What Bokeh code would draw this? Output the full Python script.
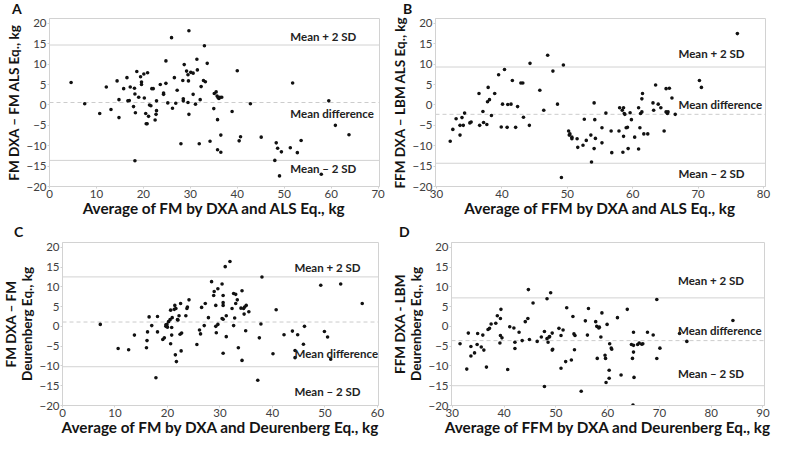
from bokeh.plotting import figure
from bokeh.layouts import column, row
from bokeh.models import Range1d, Span, FixedTicker, Div
from bokeh.embed import file_html
from bokeh.resources import INLINE
from bokeh.core.properties import value

# ---------------- data ----------------
A_x = [4.6, 7.5, 10.7, 12.1, 13.1, 14.4, 14.8, 14.8, 15.8, 16.5, 16.7, 17.0, 17.2, 17.9, 18.1, 18.2, 18.3, 18.2,
       18.6, 19.0, 19.4, 19.6, 19.6, 20.1, 20.2, 20.5, 20.6, 20.8, 20.9, 21.1, 21.3, 21.6, 21.8, 22.1, 22.5, 22.7,
       22.8, 22.8, 23.6, 24.3, 24.3, 24.8, 24.8, 25.2, 26.0, 26.2, 26.6, 26.9, 27.2, 28.0, 28.4, 28.5, 28.5, 28.7,
       29.2, 29.5, 29.5, 29.6, 29.7, 29.7, 30.1, 30.6, 30.6, 31.1, 31.4, 31.5, 31.9, 32.1, 32.3, 32.8, 33.0, 33.2,
       33.6, 34.2, 35.0, 35.1, 35.5, 35.7, 35.8, 35.8, 35.9, 36.1, 36.3, 36.5, 36.5, 36.7, 38.9, 40.0, 40.4, 40.7,
       42.8, 45.1, 48.0, 48.3, 48.6, 49.0, 49.4, 51.3, 51.8, 52.8, 53.6, 57.9, 59.5, 60.9, 63.8]
A_y = [5.5, 0.3, -2.1, 4.4, -1.1, 5.9, 1.3, -3.1, 4.0, 6.7, 1.0, 1.1, 4.4, -0.4, 4.1, 2.7, -1.9, -13.7,
       8.2, 1.9, 6.9, 5.6, 5.0, 7.6, 1.7, -2.1, -4.6, -4.6, 7.9, -2.8, 0.0, -0.2, 4.0, 4.0, -3.7, -2.3,
       -1.4, 1.0, 5.0, 2.6, 2.9, 5.3, 10.8, 0.5, 16.5, -0.8, 6.7, 0.4, 3.6, -9.5, 6.0, 1.5, 1.0, 9.9,
       8.3, 7.4, 0.6, 5.9, -2.3, 18.2, 8.0, 7.8, 2.6, 0.2, 11.2, 8.6, -9.5, 1.3, 4.5, 6.0, 14.5, 5.7,
       10.2, -8.9, -0.9, 2.8, 3.2, 2.2, -11.0, -3.6, 1.8, 1.6, 1.9, -7.4, -11.6, 1.9, -1.6, 8.4, -8.8, -7.8,
       0.3, -7.9, -13.6, -9.3, -10.6, -17.4, -11.5, -10.5, 5.4, -11.7, -8.7, -17.0, 1.0, -5.0, -7.3]

B_x = [32.1, 32.5, 33.0, 33.6, 33.6, 33.9, 34.1, 34.3, 35.1, 35.3, 36.5, 36.6, 37.1, 37.2, 37.7, 37.8, 37.9, 38.1,
       38.4, 38.9, 39.5, 39.9, 40.1, 40.4, 40.8, 40.9, 41.4, 41.6, 42.1, 42.4, 42.9, 43.2, 43.3, 44.2, 44.3, 45.8,
       46.4, 47.0, 47.8, 48.5, 49.1, 49.4, 50.2, 50.3, 50.4, 50.7, 50.7, 51.5, 51.6, 52.4, 52.6, 52.9, 53.6, 53.7,
       54.1, 54.2, 54.1, 54.3, 55.3, 55.3, 55.9, 56.7, 56.8, 57.9, 58.0, 58.4, 58.5, 58.6, 58.6, 58.7, 58.8, 59.0,
       59.2, 59.3, 59.6, 59.8, 60.3, 60.9, 60.9, 61.1, 61.2, 61.4, 61.4, 61.5, 61.7, 62.3, 63.1, 63.2, 63.5, 63.9,
       64.3, 64.8, 65.1, 65.1, 65.3, 65.4, 65.6, 66.0, 66.5, 70.2, 70.5, 76.0]
B_y = [-8.9, -6.0, -3.4, -5.0, -7.4, -3.1, -5.0, -2.0, -4.4, -4.2, 2.8, -5.0, -1.6, -4.3, -4.8, 0.8, 4.3, 1.3,
       -2.6, 2.8, 7.4, -5.4, 0.2, 8.7, -5.5, 0.1, 0.2, 6.0, -5.5, -0.4, 5.4, 5.4, -3.0, -5.0, 10.2, 3.6,
       -1.3, 12.2, 8.3, 0.2, -17.8, 9.8, -6.4, -7.4, -7.1, -7.9, -8.3, -8.3, -10.4, -9.9, -3.5, -8.7, -7.4, -14.0,
       0.5, -3.6, -10.7, -8.2, -5.6, -9.3, -2.0, -6.4, -11.7, -6.4, -0.7, -1.3, -11.6, -7.7, -0.7, -2.1, -2.3, -5.6,
       -5.5, -10.7, -1.9, -3.6, -7.9, -0.7, -10.8, -5.6, -2.1, -1.7, 1.5, 2.8, -7.1, -7.1, 0.5, -1.3, 4.9, 0.2,
       -0.7, -6.4, 4.0, -1.7, -2.1, -1.7, 4.1, 1.7, -2.3, 6.0, 4.3, 17.5]

C_x = [7.2, 10.6, 12.6, 13.7, 16.0, 16.1, 16.2, 16.5, 17.0, 17.8, 18.1, 18.1, 19.1, 19.4, 19.7, 19.7, 19.9, 20.0,
       20.2, 20.5, 20.6, 20.6, 20.8, 20.8, 20.9, 21.3, 21.4, 21.6, 21.5, 21.7, 21.9, 22.0, 22.2, 22.4, 22.5, 22.6,
       22.7, 23.5, 23.7, 23.8, 24.1, 25.6, 26.1, 26.3, 26.5, 27.0, 27.2, 27.8, 28.4, 28.8, 28.9, 29.2, 29.2, 29.3,
       29.6, 29.6, 30.4, 30.4, 30.6, 30.6, 30.6, 30.6, 30.6, 31.0, 31.2, 31.2, 31.9, 32.3, 32.6, 32.6, 32.8, 33.0,
       33.0, 33.3, 33.5, 34.0, 34.2, 34.2, 34.5, 34.6, 34.7, 34.9, 35.0, 35.5, 37.5, 37.2, 37.8, 38.0, 40.1, 40.7,
       42.2, 43.8, 44.3, 44.3, 44.8, 45.9, 46.1, 49.2, 49.9, 50.5, 51.1, 53.0, 57.1]
C_y = [0.5, -5.6, -5.9, -2.2, -5.4, -3.6, -1.4, 2.4, 0.2, -13.0, 2.5, -1.4, -3.3, -2.9, 0.0, 0.4, 0.5, -0.2,
       1.2, 1.7, 4.1, -4.4, -0.3, -2.2, 2.2, 4.3, 5.3, 4.5, -7.2, -8.9, 1.7, 1.6, 2.7, -2.0, 5.8, -6.2,
       -1.7, 2.7, 4.5, 4.9, 6.7, -4.6, -0.9, -1.9, 4.8, 0.2, 5.8, 2.2, 11.3, 7.8, 8.8, 5.3, 0.0, -1.6,
       9.5, 0.5, 10.7, 2.0, 7.8, 5.3, 6.0, -6.8, 1.8, 15.1, 2.7, -2.6, 16.4, 4.5, 0.2, 8.3, 2.1, 8.1,
       5.8, 6.7, -5.4, 4.6, 9.0, -8.6, 4.5, 3.1, 4.9, -1.1, 5.3, 3.7, -2.9, -13.6, 0.6, 12.5, -6.9, 4.2,
       -2.1, -1.2, -6.1, -7.9, -2.1, -4.5, 0.0, 10.4, -1.3, -2.7, -8.3, 10.7, 5.8]

D_x = [31.5, 32.8, 33.1, 33.6, 33.6, 34.3, 34.8, 34.9, 35.6, 35.9, 36.1, 36.6, 36.9, 37.2, 37.5, 38.4, 38.7, 39.2,
       39.3, 39.3, 39.4, 39.6, 40.7, 41.1, 41.9, 42.1, 42.1, 42.9, 43.5, 44.1, 44.6, 44.7, 44.9, 45.6, 46.4, 47.2,
       47.8, 47.8, 48.3, 48.3, 48.5, 48.7, 48.8, 49.0, 49.3, 49.3, 49.4, 50.6, 51.0, 51.0, 51.4, 51.9, 52.1, 53.0,
       53.3, 53.5, 53.6, 53.7, 54.9, 55.7, 56.1, 56.3, 57.7, 57.9, 58.0, 58.3, 58.4, 58.7, 58.9, 59.5, 59.6, 59.7,
       59.9, 60.3, 60.3, 60.4, 60.7, 60.8, 61.9, 62.6, 63.8, 64.6, 64.8, 64.9, 65.0, 65.0, 65.0, 65.1, 65.8, 66.1,
       66.6, 66.8, 67.7, 68.8, 69.5, 69.5, 70.1, 73.9, 75.3, 84.2]
D_y = [-4.4, -10.8, -1.7, -5.1, -7.5, -6.7, -4.6, -1.8, -5.2, -2.2, -6.0, -10.3, -0.8, -0.5, 0.6, 0.8, 2.7, -4.2,
       2.0, -2.3, 4.3, -2.9, -10.9, -0.1, -0.4, -5.6, -4.0, -1.5, -3.6, 1.2, 2.0, 9.3, -3.3, 5.9, -3.8, -2.7,
       -1.3, -15.2, 7.0, -3.1, -4.0, -2.7, -2.6, 8.5, -6.0, -1.7, -5.8, -0.5, -10.6, -2.3, -0.9, -8.9, 4.7, -8.5,
       2.5, -1.9, -5.9, -2.3, -16.4, 1.4, -2.2, 4.5, 1.2, 0.0, -8.1, -0.4, -0.2, -2.7, 3.4, -7.3, -8.1, -14.2,
       0.5, -13.1, -11.1, -4.4, -5.5, -5.8, 2.2, -12.3, 4.3, -4.6, -8.1, -19.9, -1.5, -4.8, -6.5, -12.9, -4.6, -4.2,
       -4.5, -4.4, -1.5, -2.2, 6.8, -8.1, -5.5, -1.8, -3.8, 1.5]

# limits of agreement: [mean + 2 SD, mean difference, mean - 2 SD]
A_limits = [14.7, 0.6, -13.6]
B_limits = [9.3, -2.3, -14.3]
C_limits = [12.5, 1.1, -10.2]
D_limits = [7.2, -3.6, -15.0]

limit_labels = ["Mean + 2 SD", "Mean difference", "Mean \u2013 2 SD"]
# [x, y of upper label, y of mean label, y of lower label]
A_label_pos = [51.3, 16.9, -2.1, -15.5]
B_label_pos = [67.0, 12.6, 0.0, -16.7]
C_label_pos = [44.2, 15.0, -6.8, -16.4]
D_label_pos = [73.6, 11.6, -1.0, -11.9]

y_ticks = [-20, -15, -10, -5, 0, 5, 10, 15, 20]
A_xticks = [0, 10, 20, 30, 40, 50, 60, 70]
B_xticks = [30, 40, 50, 60, 70, 80]
C_xticks = [0, 10, 20, 30, 40, 50, 60]
D_xticks = [30, 40, 50, 60, 70, 80, 90]

FONT = "Lato"
LINE = "#d2d2d2"


def letter_div(letter, m_left, m_top, height):
    html = ('<div style="font-family:Lato;font-weight:bold;font-size:14px;'
            'line-height:17px;color:#111111;white-space:nowrap;">%s</div>') % letter
    return Div(text=html, width=389 - m_left, height=height - m_top, margin=(m_top, 0, 0, m_left))


def panel(xs, ys, xr, xticks, xlabel, ylabel, limits, lpos, height, borders):
    bl, br = borders
    p = figure(width=389, height=height, output_backend="svg", toolbar_location=None,
               x_range=Range1d(*xr), y_range=Range1d(-20, 21.2),
               min_border_left=bl, min_border_top=1, min_border_right=br, min_border_bottom=0)
    p.xgrid.visible = False
    p.ygrid.visible = False
    p.outline_line_color = LINE
    p.outline_line_width = 1
    for ax in (p.xaxis[0], p.yaxis[0]):
        ax.axis_line_color = LINE
        ax.major_tick_line_color = LINE
        ax.major_tick_out = 2
        ax.major_tick_in = 0
        ax.minor_tick_line_color = None
        ax.major_label_text_font = FONT
        ax.major_label_text_font_size = "11.5px"
        ax.major_label_text_color = "#404040"
        ax.axis_label_text_font = FONT
        ax.axis_label_text_font_style = "bold"
        ax.axis_label_text_color = "#141414"
        ax.axis_label_text_line_height = 1.0
        ax.major_label_standoff = 1
        ax.axis_label_standoff = 1
    p.xaxis.major_label_standoff = 1
    p.xaxis.axis_label_standoff = -2
    p.xaxis.axis_label_text_font_size = "15.3px"
    p.yaxis.axis_label_text_font_size = "13.5px"
    p.xaxis.ticker = FixedTicker(ticks=xticks)
    p.yaxis.ticker = FixedTicker(ticks=y_ticks)
    p.xaxis.axis_label = xlabel
    p.yaxis.axis_label = ylabel

    p.add_layout(Span(location=limits[0], dimension="width", line_color=LINE, line_width=1,
                      level="underlay"))
    p.add_layout(Span(location=limits[1], dimension="width", line_color="#cccccc", line_width=1,
                      line_dash="4 3", level="underlay"))
    p.add_layout(Span(location=limits[2], dimension="width", line_color=LINE, line_width=1,
                      level="underlay"))

    p.scatter(xs, ys, size=3.6, color="#111111", line_width=0)

    p.text(x=[lpos[0]] * 3, y=lpos[1:], text=limit_labels,
           text_font=value(FONT), text_font_style="bold", text_font_size="11.5px",
           text_color="#222222", text_baseline="middle", text_align="left")
    return p


pA = panel(A_x, A_y, (0, 70.3), A_xticks, "Average of FM by DXA and ALS Eq., kg",
           "FM DXA \u2013 FM ALS Eq., kg", A_limits, A_label_pos, 202, (49, 10))
pB = panel(B_x, B_y, (29.85, 80.3), B_xticks, "Average of FFM by DXA and ALS Eq., kg",
           "FFM DXA \u2013 LBM ALS Eq., kg", B_limits, B_label_pos, 202, (46, 13))
pC = panel(C_x, C_y, (0, 60.2), C_xticks, "Average of FM by DXA and Deurenberg Eq., kg",
           "FM DXA \u2013 FM\nDeurenberg Eq., kg", C_limits, C_label_pos, 197, (49, 11))
pD = panel(D_x, D_y, (29.85, 90.3), D_xticks, "Average of FFM by DXA and Deurenberg Eq., kg",
           "FFM DXA - LBM\nDeurenberg Eq., kg", D_limits, D_label_pos, 197, (46, 14))

dA = letter_div("A", 12, 0, 17)
dB = letter_div("B", 14, 0, 17)
dC = letter_div("C", 14, 4, 22)
dD = letter_div("D", 10, 4, 22)

layout = column(
    row(column(dA, pA, spacing=0), column(dB, pB, spacing=0), spacing=0),
    row(column(dC, pC, spacing=0), column(dD, pD, spacing=0), spacing=0),
    spacing=0)

open("out.html", "w").write(file_html(layout, INLINE))
